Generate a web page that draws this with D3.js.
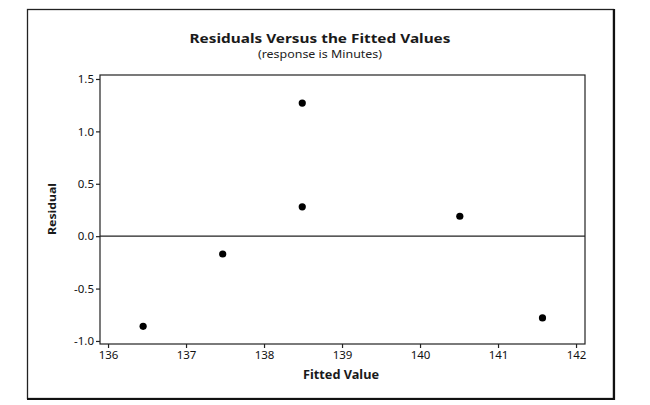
<!DOCTYPE html>
<html><head><meta charset="utf-8">
<script src="https://cdn.jsdelivr.net/npm/d3@7"></script>
<style>body{margin:0;background:#fff}svg{display:block}</style>
</head><body>
<script>
const fittedValues = [136.45, 137.47, 138.49, 138.49, 140.51, 141.57];
const residuals    = [-0.86, -0.17, 1.27, 0.28, 0.19, -0.78];
const xTicks = [136, 137, 138, 139, 140, 141, 142];
const yTicks = [-1.0, -0.5, 0.0, 0.5, 1.0, 1.5];
const titleText = "Residuals Versus the Fitted Values";
const subtitleText = "(response is Minutes)";
const xLabel = "Fitted Value";
const yLabel = "Residual";

const W = 650, H = 405;
const plot = {left: 100, top: 75, right: 585, bottom: 344};
const font = "Noto Sans, Open Sans, sans-serif";

const svg = d3.select("body").append("svg").attr("width", W).attr("height", H);

// outer frame
svg.append("rect").attr("x", 27.5).attr("y", 9.5).attr("width", 586).attr("height", 389)
  .attr("fill", "none").attr("stroke", "#222").attr("stroke-width", 1.3);
svg.append("line").attr("x1", 27).attr("x2", 615).attr("y1", 399).attr("y2", 399).attr("stroke", "#111").attr("stroke-width", 2.2);
svg.append("line").attr("x1", 614).attr("x2", 614).attr("y1", 9).attr("y2", 400).attr("stroke", "#111").attr("stroke-width", 2.2);

const x = d3.scaleLinear().domain([135.897, 142.115]).range([plot.left, plot.right]);
const y = d3.scaleLinear().domain([-1.029, 1.538]).range([plot.bottom, plot.top]);

// plot box
svg.append("rect").attr("x", plot.left).attr("y", plot.top)
  .attr("width", plot.right - plot.left).attr("height", plot.bottom - plot.top)
  .attr("fill", "none").attr("stroke", "#222").attr("stroke-width", 1.2);

// zero reference line
svg.append("line").attr("x1", plot.left).attr("x2", plot.right)
  .attr("y1", y(0)).attr("y2", y(0)).attr("stroke", "#222").attr("stroke-width", 1.2);

// axes
const yFmt = d => d3.format(".1f")(d).replace("\u2212", "-");
const xAxis = svg.append("g").attr("transform", `translate(0,${plot.bottom})`)
  .call(d3.axisBottom(x).tickValues(xTicks).tickFormat(d3.format("d")).tickSize(4).tickPadding(3));
const yAxis = svg.append("g").attr("transform", `translate(${plot.left},0)`)
  .call(d3.axisLeft(y).tickValues(yTicks).tickFormat(yFmt).tickSize(4).tickPadding(2));
[xAxis, yAxis].forEach(g => {
  g.select(".domain").remove();
  g.selectAll("line").attr("stroke", "#222").attr("stroke-width", 1.2);
  g.selectAll("text").attr("font-family", font).attr("font-size", 11.5).attr("fill", "#111");
});

// points
svg.append("g").selectAll("circle").data(fittedValues).join("circle")
  .attr("cx", (d) => x(d)).attr("cy", (d, i) => y(residuals[i])).attr("r", 3.6).attr("fill", "#000");

// titles
svg.append("text").attr("x", 320).attr("y", 43).attr("text-anchor", "middle")
  .attr("font-family", font).attr("font-weight", "bold").attr("font-size", 13).attr("fill", "#1a1a1a")
  .attr("textLength", 261).attr("lengthAdjust", "spacingAndGlyphs").text(titleText);
svg.append("text").attr("x", 320).attr("y", 58).attr("text-anchor", "middle")
  .attr("font-family", font).attr("font-size", 10.5).attr("fill", "#222")
  .attr("textLength", 124).attr("lengthAdjust", "spacingAndGlyphs").text(subtitleText);
svg.append("text").attr("x", 341).attr("y", 379).attr("text-anchor", "middle")
  .attr("font-family", font).attr("font-weight", "bold").attr("font-size", 11.5).attr("fill", "#1a1a1a")
  .attr("textLength", 76).attr("lengthAdjust", "spacingAndGlyphs").text(xLabel);
svg.append("text").attr("transform", "translate(56,209) rotate(-90)").attr("text-anchor", "middle")
  .attr("font-family", font).attr("font-weight", "bold").attr("font-size", 11).attr("fill", "#1a1a1a")
  .attr("textLength", 52).attr("lengthAdjust", "spacingAndGlyphs").text(yLabel);
</script>
</body></html>
